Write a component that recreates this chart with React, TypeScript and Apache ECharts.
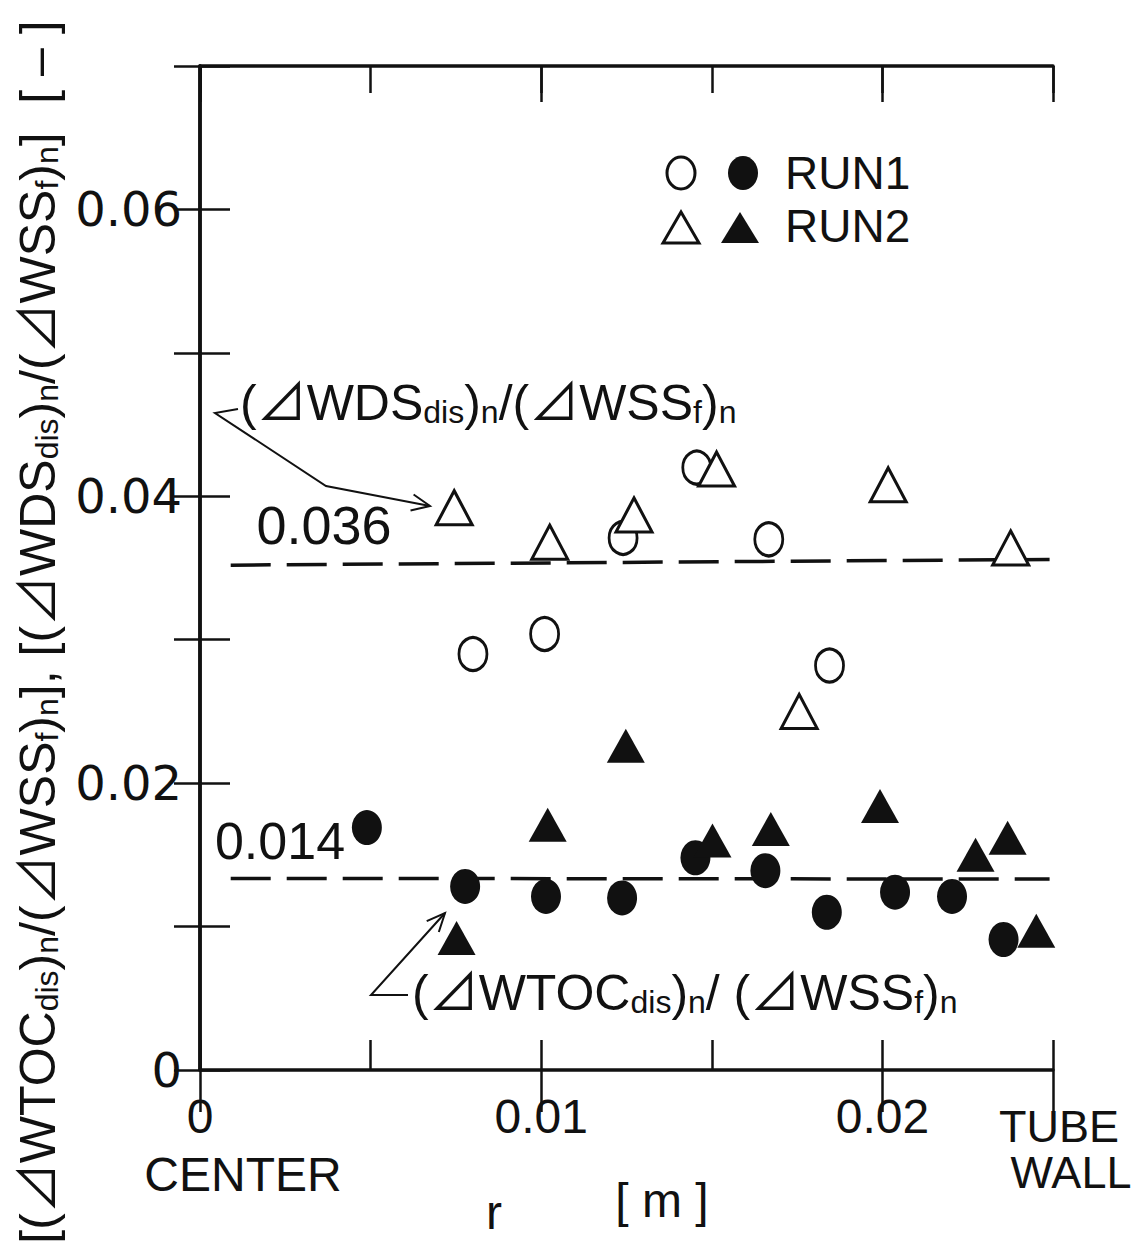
import React, { useEffect, useRef } from "react";
import * as echarts from "echarts";

// RUN1 open circles: (ΔWDSdis)n/(ΔWSSf)n
const run1WdsX = [0.008, 0.0101, 0.0124, 0.01456, 0.01667, 0.01845];
const run1WdsY = [0.029, 0.0304, 0.0371, 0.042, 0.037, 0.0282];
// RUN2 open triangles: (ΔWDSdis)n/(ΔWSSf)n
const run2WdsX = [0.00745, 0.01025, 0.01272, 0.01514, 0.01756, 0.02017, 0.02376];
const run2WdsY = [0.0392, 0.0368, 0.0387, 0.0419, 0.025, 0.0408, 0.0364];
// RUN1 filled circles: (ΔWTOCdis)n/(ΔWSSf)n
const run1TocX = [0.00489, 0.00777, 0.01014, 0.01237, 0.01452, 0.01657, 0.01837, 0.02037, 0.02204, 0.02355];
const run1TocY = [0.0169, 0.0128, 0.0121, 0.012, 0.0148, 0.0139, 0.011, 0.0124, 0.0121, 0.0091];
// RUN2 filled triangles: (ΔWTOCdis)n/(ΔWSSf)n
const run2TocX = [0.00752, 0.01019, 0.01248, 0.01502, 0.01673, 0.01993, 0.02273, 0.02367, 0.02451];
const run2TocY = [0.0092, 0.0171, 0.0226, 0.016, 0.0168, 0.0184, 0.015, 0.0162, 0.0097];
// mean lines (labelled 0.036 and 0.014)
const wdsLineX = [0.0009, 0.0249];
const wdsLineY = [0.0352, 0.0356];
const tocLineX = [0.0009, 0.0249];
const tocLineY = [0.01336, 0.01331];

const xMax = 0.025;
const yMax = 0.07;

const SANS = '"Liberation Sans", Arial, "Noto Sans CJK JP", sans-serif';
const WIDE = '"DejaVu Sans", "Noto Sans CJK JP", sans-serif';

const zip = (xs: number[], ys: number[]) => xs.map((x, i) => [x, ys[i]]);

function arrowHead(tip: number[], from: number[], len = 20, ang = 0.42) {
  const a = Math.atan2(tip[1] - from[1], tip[0] - from[0]);
  return [
    [tip[0] - len * Math.cos(a - ang), tip[1] - len * Math.sin(a - ang)],
    tip,
    [tip[0] - len * Math.cos(a + ang), tip[1] - len * Math.sin(a + ang)],
  ];
}

export default function App() {
  const ref = useRef<HTMLDivElement>(null);
  useEffect(() => {
    document.body.style.margin = "0";
    const chart = echarts.init(ref.current!, null, { renderer: "svg" });
    const black = "#111";
    const rich = {
      s: { fontSize: 32, fontFamily: SANS, fill: black, verticalAlign: "bottom" },
    };
    const upArrow = [[238, 409], [215, 413], [326, 486], [430, 506]];
    const lowArrow = [[408, 995], [371, 995], [445, 913]];
    const tickStyle = { color: black, width: 2.5 };
    const xBase = { type: "value", min: 0, max: xMax, splitLine: { show: false } };
    const yBase = { type: "value", min: 0, max: yMax, interval: 0.01, splitLine: { show: false } };
    const option: any = {
      animation: false,
      backgroundColor: "#fff",
      grid: { left: 200, right: 92, top: 66, bottom: 181 },
      xAxis: [
        {
          ...xBase,
          interval: 0.005,
          axisLine: { lineStyle: { color: black, width: 3.5 } },
          axisTick: { inside: true, length: 30, lineStyle: tickStyle },
          axisLabel: {
            margin: 22,
            fontSize: 48,
            fontFamily: SANS,
            color: black,
            formatter: (v: number) => {
              const r = Math.round(v * 1000);
              if (r === 0) return "0";
              if (r === 10) return "0.01";
              if (r === 20) return "0.02";
              return "";
            },
          },
        },
        {
          ...xBase,
          interval: 0.01,
          axisLine: { show: false },
          axisTick: { inside: true, length: 42, lineStyle: tickStyle },
          axisLabel: { show: false },
        },
        {
          ...xBase,
          position: "top",
          interval: 0.005,
          axisLine: { lineStyle: { color: black, width: 3.5 } },
          axisTick: { inside: true, length: 27, lineStyle: tickStyle },
          axisLabel: { show: false },
        },
        {
          ...xBase,
          position: "top",
          interval: 0.01,
          axisLine: { show: false },
          axisTick: { inside: true, length: 36, lineStyle: tickStyle },
          axisLabel: { show: false },
        },
      ],
      yAxis: [
        {
          ...yBase,
          axisLine: { lineStyle: { color: black, width: 3.5 } },
          axisTick: { inside: true, length: 30, lineStyle: tickStyle },
          axisLabel: {
            margin: 18,
            fontSize: 48,
            fontFamily: WIDE,
            color: black,
            formatter: (v: number) => {
              const r = Math.round(v * 100);
              if (r % 2 !== 0) return "";
              return r === 0 ? "0" : "0.0" + r;
            },
          },
        },
        {
          ...yBase,
          position: "right",
          axisLine: { lineStyle: { color: black, width: 3.5 } },
          axisTick: { inside: true, length: 26, lineStyle: tickStyle },
          axisLabel: { show: false },
        },
      ],
      series: [
        {
          type: "line",
          data: zip(wdsLineX, wdsLineY),
          symbol: "none",
          lineStyle: { color: black, width: 3.5, type: [40, 16] },
          z: 1,
        },
        {
          type: "line",
          data: zip(tocLineX, tocLineY),
          symbol: "none",
          lineStyle: { color: black, width: 3.5, type: [40, 16] },
          z: 1,
        },
        {
          name: "RUN1 WDS",
          type: "scatter",
          data: zip(run1WdsX, run1WdsY),
          symbol: "circle",
          symbolSize: [28, 33],
          itemStyle: { color: "#fff", borderColor: black, borderWidth: 3, opacity: 1 },
          z: 3,
        },
        {
          name: "RUN2 WDS",
          type: "scatter",
          data: zip(run2WdsX, run2WdsY),
          symbol: "triangle",
          symbolSize: [36, 34],
          itemStyle: { color: "#fff", borderColor: black, borderWidth: 3, opacity: 1 },
          z: 4,
        },
        {
          name: "RUN1 TOC",
          type: "scatter",
          data: zip(run1TocX, run1TocY),
          symbol: "circle",
          symbolSize: [30, 35],
          itemStyle: { color: black, opacity: 1 },
          z: 3,
        },
        {
          name: "RUN2 TOC",
          type: "scatter",
          data: zip(run2TocX, run2TocY),
          symbol: "triangle",
          symbolSize: [38, 34],
          clip: false,
          itemStyle: { color: black, opacity: 1 },
          z: 4,
        },
      ],
      graphic: [
        // legend
        { type: "ellipse", shape: { cx: 681, cy: 173, rx: 14, ry: 16 }, style: { fill: "#fff", stroke: black, lineWidth: 3 } },
        { type: "ellipse", shape: { cx: 743, cy: 173, rx: 15, ry: 17 }, style: { fill: black } },
        { type: "text", x: 785, y: 173, style: { text: "RUN1", fontSize: 46, fontFamily: SANS, fill: black, verticalAlign: "middle" } },
        { type: "polygon", shape: { points: [[681, 212], [663, 243], [699, 243]] }, style: { fill: "#fff", stroke: black, lineWidth: 3 } },
        { type: "polygon", shape: { points: [[740, 212], [721, 243], [759, 243]] }, style: { fill: black } },
        { type: "text", x: 785, y: 226, style: { text: "RUN2", fontSize: 46, fontFamily: SANS, fill: black, verticalAlign: "middle" } },
        // mean values
        { type: "text", x: 324, y: 525, style: { text: "0.036", fontSize: 54, fontFamily: SANS, fill: black, align: "center", verticalAlign: "middle" } },
        { type: "text", x: 280, y: 841, style: { text: "0.014", fontSize: 52, fontFamily: SANS, fill: black, align: "center", verticalAlign: "middle" } },
        // annotations
        {
          type: "text",
          x: 240,
          y: 403,
          style: {
            text: "(⊿WDS{s|dis}){s|n}/(⊿WSS{s|f}){s|n}",
            fontSize: 50,
            fontFamily: SANS,
            fill: black,
            verticalAlign: "middle",
            rich,
          },
        },
        {
          type: "text",
          x: 412,
          y: 993,
          style: {
            text: "(⊿WTOC{s|dis}){s|n}/ (⊿WSS{s|f}){s|n}",
            fontSize: 50,
            fontFamily: SANS,
            fill: black,
            verticalAlign: "middle",
            rich,
          },
        },
        { type: "polyline", shape: { points: upArrow }, style: { stroke: black, lineWidth: 2, fill: null } },
        { type: "polyline", shape: { points: arrowHead(upArrow[3], upArrow[2]) }, style: { stroke: black, lineWidth: 2, fill: null } },
        { type: "polyline", shape: { points: lowArrow }, style: { stroke: black, lineWidth: 2, fill: null } },
        { type: "polyline", shape: { points: arrowHead(lowArrow[2], lowArrow[1]) }, style: { stroke: black, lineWidth: 2, fill: null } },
        // x-axis side texts
        { type: "text", x: 243, y: 1174, style: { text: "CENTER", fontSize: 48, fontFamily: SANS, fill: black, align: "center", verticalAlign: "middle" } },
        { type: "text", x: 1059, y: 1126, style: { text: "TUBE", fontSize: 45, fontFamily: SANS, fill: black, align: "center", verticalAlign: "middle" } },
        { type: "text", x: 1071, y: 1172, style: { text: "WALL", fontSize: 45, fontFamily: SANS, fill: black, align: "center", verticalAlign: "middle" } },
        { type: "text", x: 494, y: 1212, style: { text: "r", fontSize: 48, fontFamily: SANS, fill: black, align: "center", verticalAlign: "middle" } },
        { type: "text", x: 662, y: 1200, style: { text: "[ m ]", fontSize: 48, fontFamily: SANS, fill: black, align: "center", verticalAlign: "middle" } },
        // y-axis title (rotated)
        {
          type: "text",
          x: 38,
          y: 688,
          rotation: Math.PI / 2,
          style: {
            text: "[(⊿WTOC{s|dis}){s|n}/(⊿WSS{s|f}){s|n}], [(⊿WDS{s|dis}){s|n}/(⊿WSS{s|f}){s|n}]",
            fontSize: 50,
            fontFamily: SANS,
            fill: black,
            align: "center",
            verticalAlign: "middle",
            rich,
          },
        },
        {
          type: "text",
          x: 38,
          y: 62,
          rotation: Math.PI / 2,
          style: { text: "[ – ]", fontSize: 50, fontFamily: SANS, fill: black, align: "center", verticalAlign: "middle" },
        },
      ],
    };
    chart.setOption(option);
    return () => chart.dispose();
  }, []);
  return <div ref={ref} style={{ width: 1145, height: 1251 }} />;
}
